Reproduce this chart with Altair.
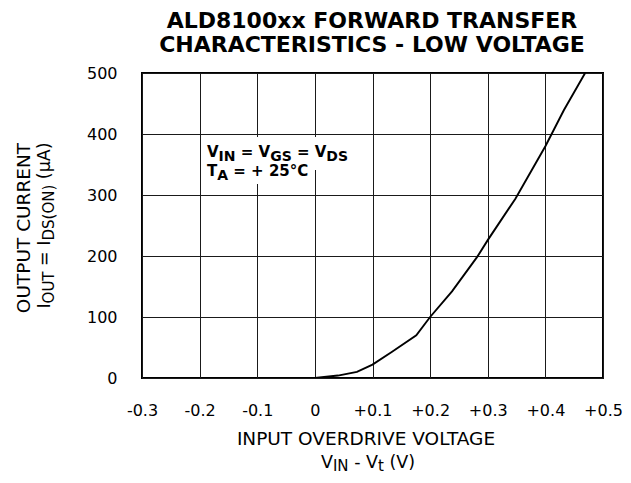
import json
import altair as alt
import pandas as pd

# ---------------- data ----------------
overdrive_v = [0.0, 0.04, 0.073, 0.10, 0.134, 0.176, 0.20, 0.238, 0.282, 0.30, 0.348, 0.40, 0.432, 0.469]
output_ua = [0, 4, 10, 22, 43, 70, 100, 142, 199, 226, 294, 380, 439, 500]

x_ticks = [-0.3, -0.2, -0.1, 0.0, 0.1, 0.2, 0.3, 0.4, 0.5]
x_tick_labels = ["-0.3", "-0.2", "-0.1", "0", "+0.1", "+0.2", "+0.3", "+0.4", "+0.5"]
y_ticks = [0, 100, 200, 300, 400, 500]

title_lines = ["ALD8100xx FORWARD TRANSFER", "CHARACTERISTICS - LOW VOLTAGE"]
x_title_line1 = "INPUT OVERDRIVE VOLTAGE"
x_title_line2 = [("V", False), ("IN", True), (" - V", False), ("t", True), (" (V)", False)]
y_title_line1 = "OUTPUT CURRENT"
y_title_line2 = [("I", False), ("OUT", True), (" = I", False), ("DS(ON)", True), (" (\u03bcA)", False)]
note_line1 = [("V", False), ("IN", True), (" = V", False), ("GS", True), (" = V", False), ("DS", True)]
note_line2 = [("T", False), ("A", True), (" = + 25\u00b0C", False)]

FONT = "DejaVu Sans"
W, H = 461, 305

# approximate DejaVu Sans advance widths (per 1000 em) for laying out subscript pieces
REG = {" ": 318, "(": 390, ")": 390, "-": 361, ".": 318, "=": 838, "+": 838, "\u00b0": 500,
       "A": 684, "C": 698, "D": 770, "E": 632, "G": 775, "I": 295, "L": 557, "N": 748, "O": 787,
       "P": 603, "R": 695, "S": 635, "T": 611, "U": 732, "V": 684, "t": 392, "\u03bc": 636}
BOLD = {" ": 348, "=": 838, "+": 838, "\u00b0": 500, "2": 696, "5": 696,
        "A": 774, "C": 734, "D": 830, "G": 822, "I": 372, "N": 837, "S": 720, "T": 683, "V": 774}


def tw(s, size, bold=False):
    tbl = BOLD if bold else REG
    return sum(tbl.get(c, 640) for c in s) * size / 1000.0


def text_layer(t, px, py, fs, bold=False, angle=0, align="left"):
    return alt.Chart(pd.DataFrame({"t": [t]})).mark_text(
        font=FONT, fontSize=fs, fontWeight="bold" if bold else "normal",
        align=align, baseline="alphabetic", angle=angle, color="black",
    ).encode(x=alt.value(px), y=alt.value(py), text="t:N")


def rich(pieces, anchor_x, anchor_y, size, sub_size, sub_shift, bold=False,
         vertical=False, centered=True):
    total = sum(tw(t, sub_size if s else size, bold) for t, s in pieces)
    start = -total / 2 if centered else 0
    layers = []
    pos = start
    for t, s in pieces:
        fs = sub_size if s else size
        stripped = t.lstrip(" ")
        lead = tw(t[: len(t) - len(stripped)], fs, bold)
        shift = sub_shift if s else 0
        if vertical:
            layers.append(text_layer(stripped, anchor_x + shift, anchor_y - (pos + lead), fs, bold, 270))
        else:
            layers.append(text_layer(stripped, anchor_x + pos + lead, anchor_y + shift, fs, bold, 0))
        pos += tw(t, fs, bold)
    return layers


df = pd.DataFrame({"v": overdrive_v, "i": output_ua})

label_expr = json.dumps(x_tick_labels) + "[round((datum.value + 0.3) * 10)]"

curve = alt.Chart(df).mark_line(color="black", strokeWidth=1.9, clip=True).encode(
    x=alt.X("v:Q",
            scale=alt.Scale(domain=[-0.3, 0.5], nice=False, zero=False),
            axis=alt.Axis(values=x_ticks, labelExpr=label_expr, title=None, grid=True,
                          gridColor="#1a1a1a", gridWidth=1, ticks=False, domain=False,
                          labelFont=FONT, labelFontSize=16, labelColor="black",
                          labelPadding=24, labelFlush=False, labelOverlap=False, labelBound=False)),
    y=alt.Y("i:Q",
            scale=alt.Scale(domain=[0, 500], nice=False),
            axis=alt.Axis(values=y_ticks, title=None, grid=True, gridColor="#1a1a1a",
                          gridWidth=1, ticks=False, domain=False, labelFont=FONT,
                          labelFontSize=16, labelColor="black", labelPadding=25,
                          labelFlush=False, labelOverlap=False, labelBound=False)),
)

# white boxes behind the condition note
box1 = alt.Chart(pd.DataFrame({"a": [0]})).mark_rect(color="white").encode(
    x=alt.value(60), x2=alt.value(213), y=alt.value(64), y2=alt.value(97))
box2 = alt.Chart(pd.DataFrame({"a": [0]})).mark_rect(color="white").encode(
    x=alt.value(60), x2=alt.value(168), y=alt.value(97), y2=alt.value(111))

layers = [curve, box1, box2]
layers += rich(note_line1, 65, 84, 15, 14, 3.5, bold=True, centered=False)
layers += rich(note_line2, 65, 103, 15, 14, 3.5, bold=True, centered=False)

# chart title
layers.append(text_layer(title_lines[0], 230, -45.5, 22, bold=True, align="center"))
layers.append(text_layer(title_lines[1], 230, -21.5, 22, bold=True, align="center"))

# x axis title
layers.append(text_layer(x_title_line1, 224, 372, 18.5, align="center"))
layers += rich(x_title_line2, 226, 395, 17.5, 15, 3)

# y axis title
layers.append(text_layer(y_title_line1, -112, 155, 18.5, angle=270, align="center"))
layers += rich(y_title_line2, -92, 152.5, 17.5, 15, 4, vertical=True)

chart = alt.layer(*layers).properties(
    width=W, height=H,
    autosize=alt.AutoSizeParams(type="none"),
    padding={"left": 134, "top": 65, "right": 20, "bottom": 97},
    background="white",
).configure_view(stroke="black", strokeWidth=2)

chart.save("out.html", embed_options={"renderer": "svg", "actions": False})
